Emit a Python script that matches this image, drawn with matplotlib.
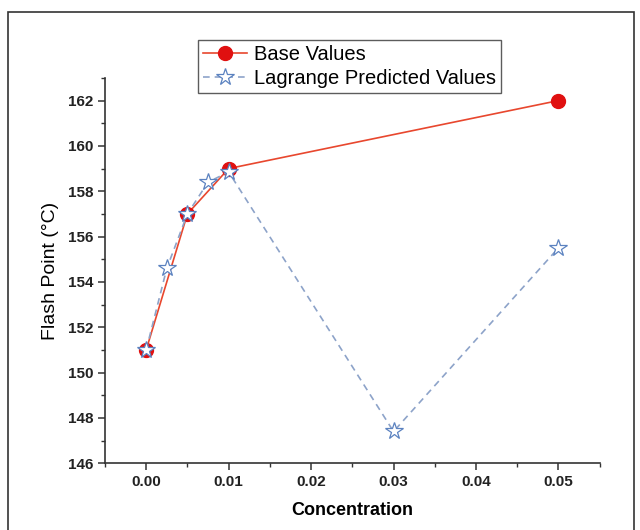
import matplotlib
matplotlib.use("Agg")
import matplotlib.pyplot as plt
from matplotlib.patches import Rectangle
from matplotlib.ticker import MultipleLocator

plt.rcParams["font.family"] = ["Liberation Sans", "DejaVu Sans"]

# Base measured values
base_conc = [0.0, 0.005, 0.01, 0.05]
base_fp = [151, 157, 159, 162]

# Lagrange predicted values
lag_conc = [0.0, 0.0025, 0.005, 0.0075, 0.01, 0.03, 0.05]
lag_fp = [151, 154.6, 157, 158.4, 158.85, 147.4, 155.5]

fig = plt.figure(figsize=(6.4, 5.3), dpi=100)
ax = fig.add_axes([0.164, 0.126, 0.773, 0.727])

# outer frame of the figure
fig.patches.append(Rectangle((8 / 640, -0.05), 626 / 640, 1 - 12 / 530 + 0.05,
                             transform=fig.transFigure, fill=False,
                             edgecolor="#333333", linewidth=1.2))

ax.plot(base_conc, base_fp, "-o", color="#e8472e", linewidth=1.2,
        markersize=10, markerfacecolor="#e01010", markeredgecolor="#e01010",
        label="Base Values", zorder=2)
ax.plot(lag_conc, lag_fp, "--*", color="#8da3c9", linewidth=1.2,
        dashes=(4, 3), markersize=13, markerfacecolor="white",
        markeredgecolor="#5b82c0", markeredgewidth=0.9,
        label="Lagrange Predicted Values", zorder=3)

ax.set_xlim(-0.005, 0.055)
ax.set_ylim(146, 163)
ax.xaxis.set_minor_locator(MultipleLocator(0.005))
ax.yaxis.set_minor_locator(MultipleLocator(1))
ax.set_yticks([146, 148, 150, 152, 154, 156, 158, 160, 162])
ax.set_xticks([0.0, 0.01, 0.02, 0.03, 0.04, 0.05])
ax.set_xticklabels(["0.00", "0.01", "0.02", "0.03", "0.04", "0.05"])

ax.spines["top"].set_visible(False)
ax.spines["right"].set_visible(False)
for s in ("left", "bottom"):
    ax.spines[s].set_color("#333333")
    ax.spines[s].set_linewidth(1.2)

ax.tick_params(which="major", direction="out", length=5, width=1.1,
               colors="#333333", labelsize=11)
ax.tick_params(which="minor", direction="out", length=3, width=1.0,
               colors="#333333")
for lbl in ax.get_xticklabels() + ax.get_yticklabels():
    lbl.set_fontweight("bold")
    lbl.set_color("#222222")

ax.set_xlabel("Concentration", fontsize=13, fontweight="bold", labelpad=9)
ax.set_ylabel("Flash Point (°C)", fontsize=14, labelpad=6)

leg = fig.legend(loc="upper left", bbox_to_anchor=(198 / 640, 1 - 40 / 530),
                 fontsize=14.5, frameon=True, fancybox=False,
                 handlelength=2.2, borderpad=0.25, labelspacing=0.25,
                 handletextpad=0.35, borderaxespad=0)
leg.get_frame().set_edgecolor("#333333")
leg.get_frame().set_linewidth(1.0)

fig.savefig("out.png", dpi=100)
